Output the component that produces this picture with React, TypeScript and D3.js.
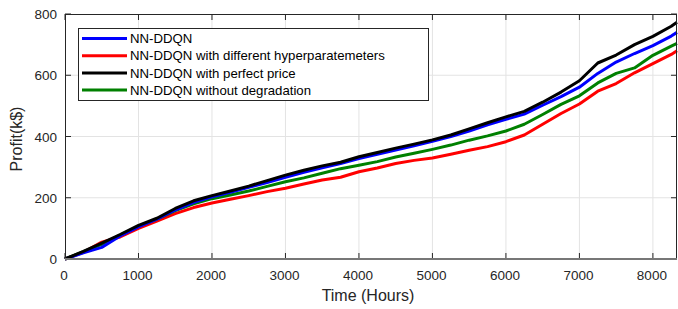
import React from "react";
import * as d3 from "d3";

const hours = [0, 250, 500, 750, 1000, 1250, 1500, 1750, 2000, 2250, 2500, 2750, 3000, 3250, 3500, 3750, 4000,
  4250, 4500, 4750, 5000, 5250, 5500, 5750, 6000, 6250, 6500, 6750, 7000, 7250, 7500, 7750, 8000, 8250, 8328];

const nnDdqn = [0, 20, 38, 75, 105, 130, 160, 185, 203, 218, 234, 250, 267, 283, 298, 312, 328,
  342, 356, 370, 384, 400, 418, 438, 456, 473, 502, 530, 561, 606, 643, 671, 697, 728, 740];
const diffHyper = [0, 22, 55, 72, 100, 124, 148, 168, 183, 195, 207, 220, 231, 245, 258, 267, 285,
  297, 312, 322, 330, 342, 355, 367, 383, 405, 440, 475, 506, 548, 573, 608, 638, 668, 680];
const perfectPrice = [0, 25, 52, 80, 110, 133, 165, 190, 207, 222, 238, 256, 274, 290, 304, 316, 334,
  348, 362, 375, 389, 405, 425, 445, 464, 482, 512, 545, 582, 640, 666, 700, 727, 760, 773];
const noDegradation = [0, 24, 48, 78, 107, 130, 158, 180, 197, 209, 222, 237, 252, 265, 280, 295, 306,
  318, 333, 345, 358, 372, 388, 402, 418, 440, 472, 505, 533, 575, 606, 624, 665, 695, 704];

const seriesNames = [
  "NN-DDQN",
  "NN-DDQN with different hyperparatemeters",
  "NN-DDQN with perfect price",
  "NN-DDQN without degradation",
];
const seriesColors = ["#0000ff", "#ff0000", "#000000", "#008000"];
// drawing order: red, green, blue, black on top
const drawOrder = [1, 3, 0, 2];

const xTicks = [0, 1000, 2000, 3000, 4000, 5000, 6000, 7000, 8000];
const yTicks = [0, 200, 400, 600, 800];

export default function App() {
  const width = 678;
  const height = 309;
  const margin = { top: 14, right: 1, bottom: 50, left: 65 };
  const allSeries = [nnDdqn, diffHyper, perfectPrice, noDegradation];

  const x = d3.scaleLinear().domain([0, 8328]).range([margin.left, width - margin.right]);
  const y = d3.scaleLinear().domain([0, 800]).range([height - margin.bottom, margin.top]);

  const line = d3.line<number>()
    .x((d, i) => x(hours[i]))
    .y(d => y(d));

  const font = "'Liberation Sans', Arial, Helvetica, sans-serif";
  const axisColor = "#262626";
  const x0 = x.range()[0], x1 = x.range()[1];
  const y0 = y.range()[0], y1 = y.range()[1];

  return (
    <svg width={width} height={height} style={{ position: "absolute", left: 0, top: 0, background: "#fff" }}>
      <rect x={0} y={0} width={width} height={height} fill="#fff" />
      {/* grid */}
      {xTicks.filter(t => t > 0).map(t => (
        <line key={"gx" + t} x1={x(t)} x2={x(t)} y1={y0} y2={y1} stroke="#e3e3e3" strokeWidth={1} />
      ))}
      {yTicks.filter(t => t > 0 && t < 800).map(t => (
        <line key={"gy" + t} x1={x0} x2={x1} y1={y(t)} y2={y(t)} stroke="#e3e3e3" strokeWidth={1} />
      ))}

      {/* curves */}
      <g fill="none" strokeWidth={3} strokeLinejoin="round">
        {drawOrder.map(i => (
          <path key={i} d={line(allSeries[i]) || ""} stroke={seriesColors[i]} />
        ))}
      </g>

      {/* box and ticks */}
      <g stroke={axisColor} strokeWidth={1} fill="none">
        <line x1={x0} x2={x1} y1={y1 + 0.5} y2={y1 + 0.5} />
        <line x1={x0 + 0.5} x2={x0 + 0.5} y1={y1} y2={y0} />
        <line x1={x1 - 0.5} x2={x1 - 0.5} y1={y1} y2={y0} />
        {xTicks.map(t => (
          <g key={"tx" + t}>
            <line x1={x(t)} x2={x(t)} y1={y0} y2={y0 - 6} />
            <line x1={x(t)} x2={x(t)} y1={y1} y2={y1 + 6} />
          </g>
        ))}
        {yTicks.map(t => (
          <g key={"ty" + t}>
            <line x1={x0} x2={x0 + 6} y1={y(t)} y2={y(t)} />
            <line x1={x1} x2={x1 - 6} y1={y(t)} y2={y(t)} />
          </g>
        ))}
      </g>
      <line x1={x0} x2={x1} y1={y0} y2={y0} stroke="#777" strokeWidth={2} />

      {/* tick labels */}
      <g fontFamily={font} fontSize={13.5} fill={axisColor}>
        {xTicks.map(t => (
          <text key={"lx" + t} x={x(t) - 1} y={y0 + 21} textAnchor="middle">{t}</text>
        ))}
        {yTicks.map(t => (
          <text key={"ly" + t} x={x0 - 8} y={y(t) + 5} textAnchor="end">{t}</text>
        ))}
      </g>

      {/* axis labels */}
      <text x={368} y={301} textAnchor="middle" fontFamily={font} fontSize={16} fill={axisColor}>Time (Hours)</text>
      <text transform={`translate(22,139) rotate(-90)`} textAnchor="middle" fontFamily={font} fontSize={16} fill={axisColor}>Profit(k$)</text>

      {/* legend */}
      <rect x={78.5} y={28.5} width={350} height={72} fill="#fff" stroke={axisColor} strokeWidth={1} />
      {seriesNames.map((name, i) => {
        const ly = 38.5 + i * 17.2;
        return (
          <g key={name}>
            <line x1={82} x2={127} y1={ly} y2={ly} stroke={seriesColors[i]} strokeWidth={3} />
            <text x={130} y={ly + 4.7} fontFamily={font} fontSize={13.2} fill="#000">{name}</text>
          </g>
        );
      })}
    </svg>
  );
}
